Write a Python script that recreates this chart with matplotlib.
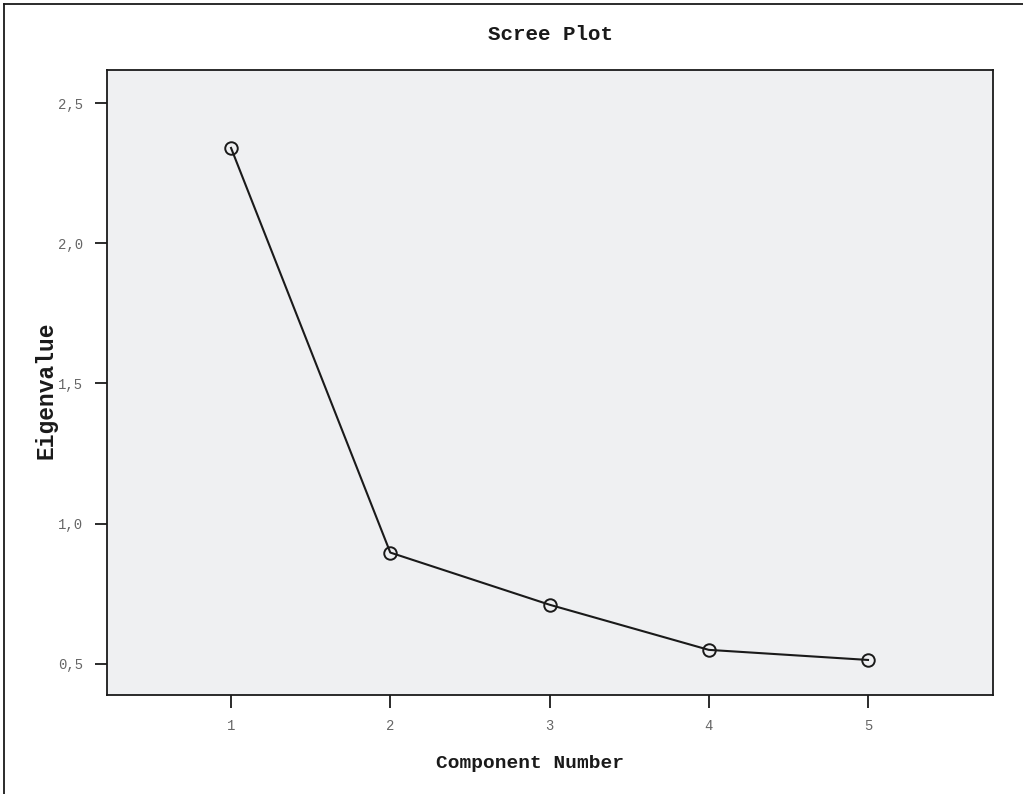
import matplotlib.pyplot as plt
from matplotlib.lines import Line2D
from matplotlib.ticker import FuncFormatter

# Scree plot data
components = [1, 2, 3, 4, 5]
eigenvalues = [2.34, 0.897, 0.711, 0.55, 0.514]
y_ticks = [0.5, 1.0, 1.5, 2.0, 2.5]

W, H = 1023, 794
fig = plt.figure(figsize=(W / 100, H / 100), dpi=100)
ax = fig.add_axes([107 / W, 1 - 695 / H, (993 - 107) / W, (695 - 70) / H])
ax.set_facecolor('#eff0f2')

ax.plot(components, eigenvalues, color='#1a1a1a', lw=1.5,
        marker='o', ms=9, mfc='none', mec='#1a1a1a', mew=1.4)

ax.set_xlim(0.221, 5.785)
ax.set_ylim(0.389, 2.618)
ax.set_xticks(components)
ax.set_yticks(y_ticks)
ax.yaxis.set_major_formatter(FuncFormatter(lambda v, p: ('%.1f' % v).replace('.', ',')))

for s in ax.spines.values():
    s.set_color('#1a1a1a')
    s.set_linewidth(1.3)
ax.tick_params(direction='out', length=9, width=1.3, color='#1a1a1a',
               labelcolor='#666666', labelsize=10, pad=8)
for lab in ax.get_xticklabels() + ax.get_yticklabels():
    lab.set_family('Liberation Mono')

fig.text(550 / W, 1 - 35 / H, 'Scree Plot', ha='center', va='center',
         family='Liberation Mono', weight='bold', fontsize=15, color='#1a1a1a')
fig.text(530 / W, 1 - 763 / H, 'Component Number', ha='center', va='center',
         family='Liberation Mono', weight='bold', fontsize=14, color='#1a1a1a')
fig.text(46 / W, 1 - 390 / H, 'Eigenvalue', ha='center', va='center', rotation=90,
         family='Liberation Mono', weight='bold', fontsize=16.5, color='#1a1a1a')

# outer frame (left and top edges only)
fig.add_artist(Line2D([4 / W, 4 / W], [0, 1 - 4 / H], color='#1a1a1a', lw=1.3))
fig.add_artist(Line2D([4 / W, 1], [1 - 4 / H, 1 - 4 / H], color='#1a1a1a', lw=1.3))

fig.savefig('out.png', dpi=100)
